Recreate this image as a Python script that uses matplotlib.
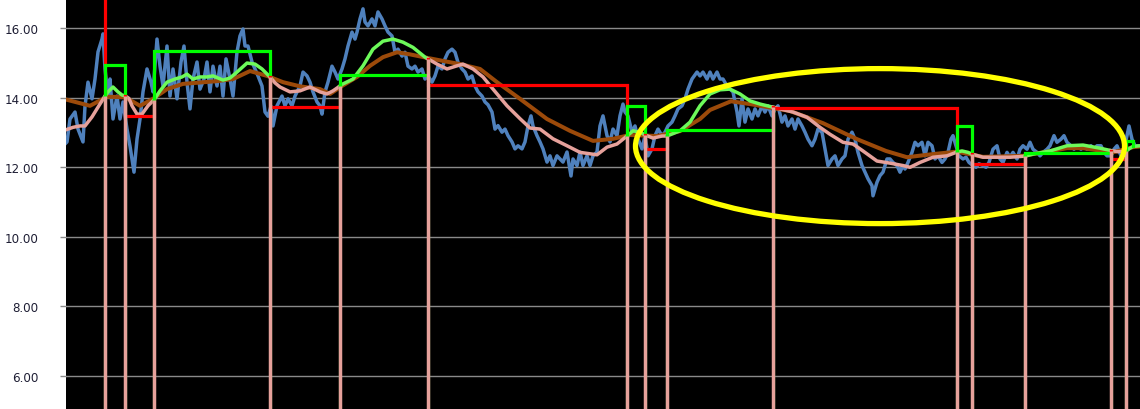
import matplotlib.pyplot as plt
from matplotlib.patches import Ellipse
import numpy as np

# daily close (day, price)
price = [
    (0, 12.70), (1, 12.73), (4, 13.39), (9, 13.59), (12, 13.10), (17, 12.73), (19, 13.76), (22, 14.45),
    (26, 13.97), (29, 14.54), (32, 15.32), (36, 15.69), (37, 15.84), (39, 14.83), (42, 14.05), (44, 14.54),
    (47, 13.39), (51, 14.05), (54, 13.39), (57, 13.88), (61, 13.10), (64, 12.61), (68, 11.86), (71, 12.81),
    (74, 13.39), (77, 14.17), (81, 14.83), (85, 14.45), (87, 14.17), (91, 15.69), (94, 14.91), (97, 14.34),
    (101, 15.49), (104, 14.05), (107, 14.83), (111, 13.97), (115, 15.03), (118, 15.49), (121, 14.45),
    (124, 13.68), (127, 14.54), (131, 15.03), (134, 14.25), (138, 14.54), (141, 15.03), (144, 14.17),
    (147, 14.91), (151, 14.34), (154, 14.91), (157, 14.05), (160, 15.12), (164, 14.54), (167, 14.05),
    (171, 15.32), (174, 15.78), (177, 15.98), (179, 15.49), (182, 15.49), (186, 15.03), (189, 14.83),
    (192, 14.63), (196, 14.34), (199, 13.59), (202, 13.47), (205, 13.76), (207, 13.19), (211, 13.77),
    (216, 14.05), (219, 13.77), (222, 13.97), (226, 13.77), (229, 14.05), (234, 14.34), (237, 14.74),
    (241, 14.63), (244, 14.45), (247, 14.17), (251, 13.88), (254, 13.77), (256, 13.53), (259, 14.17),
    (262, 14.45), (266, 14.91), (269, 14.74), (272, 14.54), (276, 14.83), (279, 15.12), (282, 15.49),
    (286, 15.89), (289, 15.69), (291, 15.89), (294, 16.27), (297, 16.56), (299, 16.18), (302, 16.07),
    (306, 16.27), (309, 16.07), (312, 16.47), (316, 16.27), (319, 16.07), (322, 15.89), (326, 15.78),
    (329, 15.31), (332, 15.40), (336, 15.20), (339, 15.31), (342, 14.91), (346, 14.83), (349, 14.91),
    (352, 14.74), (356, 14.83), (359, 14.54), (362, 14.63), (366, 14.45), (369, 14.63), (372, 14.91),
    (376, 14.83), (379, 15.12), (382, 15.31), (386, 15.40), (389, 15.31), (392, 15.02), (396, 14.83),
    (399, 14.74), (402, 14.54), (406, 14.63), (409, 14.34), (412, 14.17), (416, 14.05), (419, 13.88),
    (422, 13.80), (426, 13.59), (429, 13.10), (432, 13.20), (436, 13.01), (439, 13.10), (442, 12.91),
    (446, 12.73), (449, 12.53), (452, 12.62), (456, 12.53), (459, 12.73), (462, 13.19), (465, 13.48),
    (467, 13.19), (471, 12.91), (474, 12.73), (477, 12.53), (481, 12.15), (484, 12.33), (487, 12.05),
    (491, 12.33), (494, 12.24), (497, 12.15), (501, 12.44), (505, 11.75), (507, 12.24), (511, 12.05),
    (514, 12.44), (517, 12.05), (521, 12.33), (524, 12.05), (527, 12.33), (531, 12.44), (534, 13.19),
    (537, 13.48), (541, 12.91), (544, 12.73), (547, 13.10), (551, 12.91), (554, 13.48), (557, 13.82),
    (559, 13.59), (562, 13.48), (566, 13.01), (569, 13.19), (572, 12.82), (576, 12.53), (579, 12.91),
    (582, 12.33), (586, 12.53), (589, 12.91), (592, 13.10), (596, 12.91), (599, 13.01), (602, 13.19),
    (606, 13.30), (609, 13.48), (612, 13.68), (616, 13.77), (619, 13.97), (622, 14.25), (626, 14.54),
    (631, 14.74), (634, 14.63), (637, 14.74), (641, 14.54), (644, 14.74), (647, 14.54), (651, 14.74),
    (654, 14.54), (657, 14.54), (661, 14.34), (664, 14.25), (667, 14.17), (671, 13.59), (673, 13.19),
    (676, 13.97), (679, 13.30), (682, 13.68), (686, 13.39), (689, 13.68), (692, 13.48), (696, 13.77),
    (699, 13.59), (702, 13.77), (706, 13.48), (709, 13.68), (712, 13.77), (716, 13.30), (719, 13.48),
    (722, 13.19), (726, 13.39), (729, 13.10), (732, 13.39), (736, 13.19), (739, 13.01), (742, 12.81),
    (746, 12.62), (749, 12.81), (752, 13.10), (756, 13.01), (759, 12.53), (762, 12.05), (766, 12.24),
    (769, 12.33), (772, 12.05), (776, 12.24), (779, 12.33), (782, 12.81), (786, 13.01), (789, 12.81),
    (792, 12.43), (796, 12.05), (799, 11.86), (802, 11.67), (806, 11.47), (807, 11.18), (811, 11.57),
    (814, 11.76), (817, 11.86), (821, 12.24), (824, 12.24), (827, 12.14), (831, 12.05), (834, 11.86),
    (837, 12.05), (839, 11.95), (842, 12.14), (846, 12.43), (849, 12.72), (852, 12.62), (856, 12.72),
    (859, 12.33), (862, 12.72), (866, 12.62), (869, 12.24), (872, 12.33), (876, 12.14), (879, 12.24),
    (882, 12.43), (885, 12.81), (887, 12.91), (890, 12.62), (893, 12.33), (897, 12.24), (900, 12.29),
    (903, 12.14), (907, 12.05), (910, 12.00), (913, 12.10), (917, 12.05), (920, 12.00), (923, 12.14),
    (927, 12.52), (931, 12.62), (934, 12.24), (937, 12.14), (941, 12.43), (944, 12.29), (947, 12.43),
    (951, 12.24), (954, 12.52), (957, 12.62), (961, 12.52), (964, 12.72), (967, 12.52), (971, 12.43),
    (974, 12.33), (977, 12.43), (981, 12.52), (984, 12.62), (988, 12.91), (991, 12.72), (995, 12.81),
    (998, 12.91), (1001, 12.72), (1005, 12.62), (1008, 12.52), (1011, 12.62), (1015, 12.52), (1018, 12.62),
    (1021, 12.52), (1025, 12.62), (1028, 12.52), (1031, 12.62), (1035, 12.62), (1038, 12.43), (1041, 12.33),
    (1045, 12.33), (1048, 12.52), (1051, 12.62), (1055, 12.33), (1058, 12.52), (1061, 12.91), (1063, 13.19),
    (1066, 12.81), (1069, 12.62), (1072, 12.62),
]

# slow moving average
slow_ma = [
    (0, 13.95), (24, 13.77), (41, 14.03), (59, 14.02), (74, 13.77), (87, 13.97), (101, 14.25), (117, 14.40),
    (151, 14.48), (167, 14.54), (184, 14.77), (201, 14.63), (217, 14.45), (234, 14.33), (254, 14.25),
    (264, 14.11), (276, 14.34), (291, 14.60), (304, 14.92), (317, 15.17), (331, 15.31), (344, 15.25),
    (361, 15.15), (379, 15.05), (394, 14.97), (414, 14.83), (431, 14.45), (454, 13.97), (481, 13.39),
    (504, 13.05), (527, 12.76), (547, 12.82), (564, 12.93), (591, 12.90), (614, 13.04), (634, 13.39),
    (644, 13.65), (665, 13.90), (684, 13.82), (724, 13.62), (757, 13.27), (791, 12.81), (820, 12.47),
    (841, 12.29), (867, 12.38), (891, 12.45), (917, 12.30), (957, 12.33), (1001, 12.55), (1017, 12.55),
    (1047, 12.43), (1067, 12.58), (1074, 12.60),
]

# fast moving average (coloured by regime)
fast_ma = [
    (0, 13.08), (7, 13.15), (14, 13.19), (19, 13.19), (26, 13.45), (32, 13.73), (39, 14.05), (42, 14.17),
    (47, 14.31), (52, 14.17), (56, 14.08), (59, 14.06), (63, 13.98), (66, 13.77), (71, 13.53), (76, 13.53),
    (82, 13.77), (88, 13.94), (94, 14.20), (101, 14.45), (109, 14.54), (116, 14.60), (121, 14.68),
    (127, 14.54), (134, 14.60), (141, 14.60), (147, 14.63), (157, 14.51), (164, 14.57), (171, 14.74),
    (181, 15.00), (189, 14.97), (196, 14.83), (204, 14.60), (209, 14.43), (214, 14.31), (224, 14.17),
    (234, 14.20), (244, 14.31), (254, 14.17), (261, 14.11), (267, 14.20), (274, 14.34), (277, 14.40),
    (287, 14.54), (297, 14.92), (307, 15.40), (317, 15.63), (327, 15.69), (337, 15.60), (347, 15.45),
    (359, 15.17), (362, 15.12), (371, 14.97), (381, 14.83), (391, 14.92), (397, 14.97), (407, 14.83),
    (417, 14.60), (427, 14.25), (441, 13.77), (454, 13.40), (464, 13.13), (474, 13.10), (487, 12.82),
    (501, 12.62), (514, 12.43), (531, 12.36), (541, 12.58), (551, 12.67), (561, 12.90), (567, 13.05),
    (575, 13.00), (579, 12.93), (587, 12.84), (596, 12.90), (601, 12.90), (614, 13.05), (624, 13.30),
    (634, 13.77), (644, 14.11), (654, 14.23), (664, 14.25), (674, 14.11), (684, 13.91), (694, 13.82),
    (707, 13.73), (714, 13.68), (727, 13.59), (741, 13.44), (754, 13.15), (764, 12.95), (777, 12.72),
    (787, 12.67), (797, 12.47), (811, 12.18), (824, 12.12), (837, 12.05), (844, 12.00), (854, 12.14),
    (867, 12.29), (881, 12.33), (891, 12.44), (896, 12.47), (902, 12.43), (906, 12.38), (917, 12.29),
    (931, 12.29), (944, 12.29), (959, 12.32), (967, 12.38), (984, 12.47), (1001, 12.62), (1017, 12.64),
    (1034, 12.55), (1045, 12.48), (1052, 12.45), (1060, 12.46), (1064, 12.55), (1067, 12.60), (1074, 12.62),
]

# signal regimes: edges, type (alternating sell / buy) and level
regime_edges = [0, 39, 59, 88, 204, 274, 362, 561, 579, 601, 707, 891, 906, 959, 1045, 1060, 1067]
regime_kind = ['sell', 'buy'] * 8
regime_level = [17.50, 14.93, 13.48, 15.35, 13.73, 14.67, 14.37, 13.77,
                12.53, 13.07, 13.70, 13.19, 12.10, 12.41, 12.24, 12.76]

y_ticks = [6, 8, 10, 12, 14, 16]

# highlighted area
ellipse_center = (814, 12.61)
ellipse_size = (489, 4.46)

plt.rcParams['font.family'] = ['DejaVu Sans']

fig = plt.figure(figsize=(11.4, 4.1), dpi=100)
ax = fig.add_axes([66 / 1140, 0, 1 - 66 / 1140, 1])
ax.set_facecolor('black')

pd_, pv = zip(*price)
ax.plot(pd_, pv, color='#4f81bd', lw=2.5, zorder=3)

sd, sv = zip(*slow_ma)
ax.plot(sd, sv, color='#9c4a0a', lw=2.9, zorder=4)

fd = np.array([d for d, v in fast_ma])
fv = np.array([v for d, v in fast_ma])
ma_at = dict(fast_ma)

last_day = fd[-1]
for i, kind in enumerate(regime_kind):
    a, b = regime_edges[i], regime_edges[i + 1]
    b_ma = last_day if i == len(regime_kind) - 1 else b
    m = (fd >= a) & (fd <= b_ma)
    ma_col = '#6dfa5a' if kind == 'buy' else '#e6a19b'
    ax.plot(fd[m], fv[m], color=ma_col, lw=2.5, zorder=5)

    # step line of the regime
    lvl = regime_level[i]
    xs = [a, b, b]
    ys = [lvl, lvl, ma_at[b]]
    if a != regime_edges[0]:
        xs = [a] + xs
        ys = [ma_at[a]] + ys
    step_col = '#00ff00' if kind == 'buy' else '#ff0000'
    ax.plot(xs, ys, color=step_col, lw=2.3, zorder=6, solid_joinstyle='miter')

# drops to zero at every regime change
for i, e in enumerate(regime_edges[1:-1]):
    side = -1.4 if regime_kind[i] == 'sell' else 1.4
    ax.vlines(e + side, 0, ma_at[e], color='#2a8a2a', lw=0.9, zorder=6)
    ax.vlines(e, 0, ma_at[e], color='#e6a19b', lw=2.5, zorder=7)

ax.add_patch(Ellipse(ellipse_center, ellipse_size[0], ellipse_size[1], fill=False,
                     ec='#ffff00', lw=3.8, zorder=8))

ax.set_xlim(0, 1074)
ax.set_ylim(5.045, 16.843)
ax.set_xticks([])
ax.set_yticks(y_ticks)
ax.set_yticklabels([f'{t:.2f}' for t in y_ticks])
ax.yaxis.grid(True, color='#8a8a8a', lw=1)
ax.set_axisbelow(True)
ax.tick_params(axis='y', direction='out', length=4.1, width=1, color='#8a8a8a',
               labelsize=8.6, pad=15.6, labelcolor='#1e1e34')
for s in ax.spines.values():
    s.set_visible(False)

fig.savefig('out.png', dpi=100, facecolor='white')
